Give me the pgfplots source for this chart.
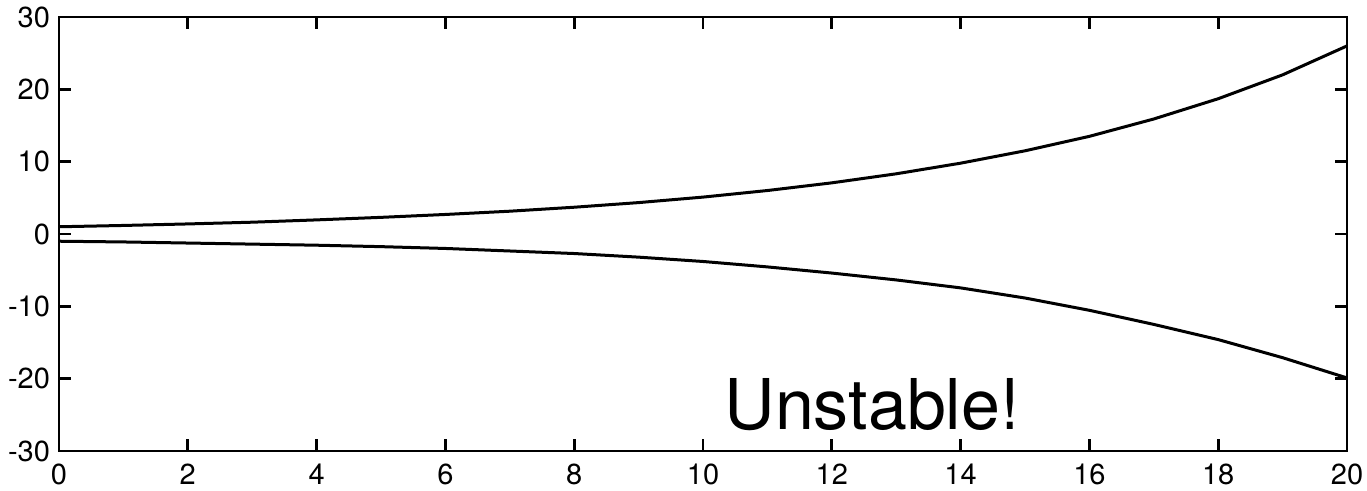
\documentclass[border=0pt]{standalone}
\usepackage{pgfplots}
\pgfplotsset{compat=1.18}
\usepackage{fontspec}
\setmainfont{TeX Gyre Heros}
\begin{document}
\begin{tikzpicture}
\begin{axis}[
  scale only axis,
  width=644pt, height=217pt,
  xmin=0, xmax=20, ymin=-30, ymax=30,
  xtick={0,2,...,20}, ytick={-30,-20,...,30},
  tick align=inside,
  major tick length=6pt,
  xtick pos=both, ytick pos=both,
  axis line style={line width=1.4pt},
  every tick/.style={line width=1.4pt, black},
  /pgf/number format/assume math mode=true,
  tick label style={font=\fontsize{14.5pt}{16pt}\selectfont},
  xticklabel style={yshift=-3pt},
  yticklabel style={xshift=-1pt},
  clip=false,
]
\addplot[black, line width=1.5pt] coordinates {
(0,1.00) (1,1.18) (2,1.39) (3,1.63) (4,1.95) (5,2.30) (6,2.70) (7,3.15)
(8,3.70) (9,4.34) (10,5.10) (11,6.01) (12,7.07) (13,8.32) (14,9.79)
(15,11.5) (16,13.5) (17,15.9) (18,18.7) (19,22.0) (20,26.0)};
\addplot[black, line width=1.5pt] coordinates {
(0,-1.0) (1,-1.1) (2,-1.25) (3,-1.4) (4,-1.55) (5,-1.75) (6,-2.0) (7,-2.35)
(8,-2.7) (9,-3.2) (10,-3.8) (11,-4.55) (12,-5.4) (13,-6.35) (14,-7.45)
(15,-8.85) (16,-10.55) (17,-12.5) (18,-14.6) (19,-17.1) (20,-19.9)};
\node[font=\fontsize{35pt}{38pt}\selectfont] at (axis cs:12.63,-23.6) {Unstable!};
\end{axis}
\pgfresetboundingbox
\path[use as bounding box] (-29.5pt,-20pt) rectangle (654pt,225.5pt);
\end{tikzpicture}
\end{document}
